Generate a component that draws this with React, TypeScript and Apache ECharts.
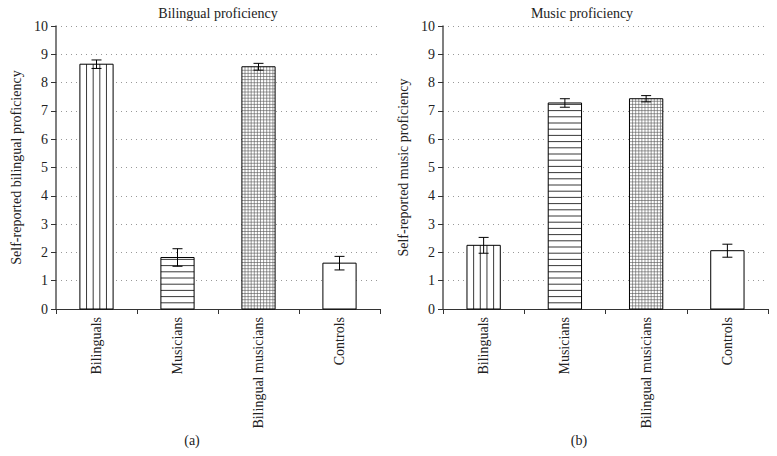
import React, { useEffect, useRef } from "react";
import * as echarts from "echarts";

const categories = ["Bilinguals", "Musicians", "Bilingual musicians", "Controls"];
const bilingualMeans = [8.65, 1.82, 8.56, 1.62];
const bilingualErrors = [0.15, 0.31, 0.12, 0.24];
const musicMeans = [2.25, 7.28, 7.43, 2.06];
const musicErrors = [0.28, 0.15, 0.11, 0.23];
const fillPatterns = ["vertical", "horizontal", "grid", "none"];
const panelTitles = ["Bilingual proficiency", "Music proficiency"];
const yAxisNames = ["Self-reported bilingual proficiency", "Self-reported music proficiency"];
const panelLabels = ["(a)", "(b)"];

const FONT = "Liberation Serif";

function renderBar(params: any, api: any) {
  const idx = api.value(0);
  const val = api.value(1);
  const err = api.value(2);
  const top = api.coord([idx, val]);
  const base = api.coord([idx, 0]);
  const catW = api.size([1, 0])[0];
  const w = catW * 0.41;
  const cx = top[0];
  const x0 = cx - w / 2;
  const x1 = cx + w / 2;
  const y0 = top[1];
  const y1 = base[1];
  const children: any[] = [];
  children.push({
    type: "rect",
    shape: { x: x0, y: y0, width: w, height: y1 - y0 },
    style: { fill: "#fff", stroke: null },
  });
  const pat = fillPatterns[idx];
  const lineStyle = { stroke: "#222", lineWidth: 0.9 };
  if (pat === "vertical") {
    const n = 5;
    for (let i = 1; i < n; i++) {
      const x = x0 + (w * i) / n;
      children.push({ type: "line", shape: { x1: x, y1: y0, x2: x, y2: y1 }, style: lineStyle });
    }
  } else if (pat === "horizontal") {
    const step = 6.2;
    for (let y = y1 - step; y > y0 + 1; y -= step) {
      children.push({ type: "line", shape: { x1: x0, y1: y, x2: x1, y2: y }, style: lineStyle });
    }
  } else if (pat === "grid") {
    const step = 3.1;
    const gs = { stroke: "#555", lineWidth: 0.6 };
    for (let y = y1 - step; y > y0 + 0.5; y -= step) {
      children.push({ type: "line", shape: { x1: x0, y1: y, x2: x1, y2: y }, style: gs });
    }
    for (let x = x0 + step; x < x1 - 0.5; x += step) {
      children.push({ type: "line", shape: { x1: x, y1: y0, x2: x, y2: y1 }, style: gs });
    }
  }
  children.push({
    type: "rect",
    shape: { x: x0, y: y0, width: w, height: y1 - y0 },
    style: { fill: null, stroke: "#000", lineWidth: 1 },
  });
  const hi = api.coord([idx, val + err])[1];
  const lo = api.coord([idx, val - err])[1];
  const cap = 5;
  const es = { stroke: "#000", lineWidth: 1 };
  children.push({ type: "line", shape: { x1: cx, y1: hi, x2: cx, y2: lo }, style: es });
  children.push({ type: "line", shape: { x1: cx - cap, y1: hi, x2: cx + cap, y2: hi }, style: es });
  children.push({ type: "line", shape: { x1: cx - cap, y1: lo, x2: cx + cap, y2: lo }, style: es });
  return { type: "group", children };
}

export default function App() {
  const ref = useRef<HTMLDivElement>(null);
  useEffect(() => {
    if (!ref.current) return;
    const chart = echarts.init(ref.current, null, { renderer: "svg" });
    const grids = [
      { left: 56, top: 26, width: 324, height: 283 },
      { left: 443, top: 26, width: 325, height: 283 },
    ];
    const makeX = (gi: number) => ({
      type: "category",
      gridIndex: gi,
      data: categories,
      boundaryGap: true,
      axisLine: { show: true, lineStyle: { color: "#333", width: 1 } },
      axisTick: { show: true, alignWithLabel: false, length: 5, lineStyle: { color: "#333" } },
      axisLabel: { rotate: 90, fontFamily: FONT, fontSize: 14, color: "#222", margin: 8, interval: 0 },
      splitLine: { show: false },
    });
    const makeY = (gi: number) => ({
      type: "value",
      gridIndex: gi,
      min: 0,
      max: 10,
      interval: 1,
      name: yAxisNames[gi],
      nameLocation: "middle",
      nameGap: 33,
      nameTextStyle: { fontFamily: FONT, fontSize: 14, color: "#222" },
      axisLine: { show: true, lineStyle: { color: "#555", width: 1.5 } },
      axisTick: { show: true, length: 5, lineStyle: { color: "#333" } },
      axisLabel: { fontFamily: FONT, fontSize: 14, color: "#222", margin: 8 },
      splitLine: { show: true, lineStyle: { color: "#999", type: [1, 4], width: 1 } },
    });
    const mk = (means: number[], errs: number[]) => means.map((m, i) => [i, m, errs[i]]);
    chart.setOption({
      animation: false,
      grid: grids,
      xAxis: [makeX(0), makeX(1)],
      yAxis: [makeY(0), makeY(1)],
      series: [
        {
          type: "custom",
          xAxisIndex: 0,
          yAxisIndex: 0,
          renderItem: renderBar,
          encode: { x: 0, y: 1 },
          data: mk(bilingualMeans, bilingualErrors),
        },
        {
          type: "custom",
          xAxisIndex: 1,
          yAxisIndex: 1,
          renderItem: renderBar,
          encode: { x: 0, y: 1 },
          data: mk(musicMeans, musicErrors),
        },
      ],
      graphic: [
        { type: "text", x: 218, y: 13, style: { text: panelTitles[0], font: `14px ${FONT}`, fill: "#222", align: "center", verticalAlign: "middle" } },
        { type: "text", x: 582, y: 13, style: { text: panelTitles[1], font: `14px ${FONT}`, fill: "#222", align: "center", verticalAlign: "middle" } },
        { type: "text", x: 192, y: 440, style: { text: panelLabels[0], font: `14px ${FONT}`, fill: "#222", align: "center", verticalAlign: "middle" } },
        { type: "text", x: 579, y: 440, style: { text: panelLabels[1], font: `14px ${FONT}`, fill: "#222", align: "center", verticalAlign: "middle" } },
      ],
    });
    return () => chart.dispose();
  }, []);
  return (
    <div
      ref={ref}
      style={{ position: "fixed", left: 0, top: 0, width: 777, height: 456, background: "#fff" }}
    />
  );
}
